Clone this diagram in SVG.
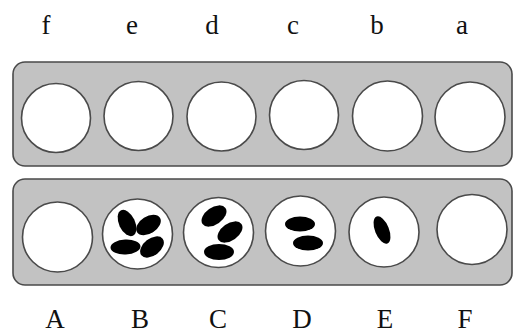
<svg xmlns="http://www.w3.org/2000/svg" width="514" height="333" viewBox="0 0 514 333">
<style>
.panel{fill:#c2c2c2;stroke:#4a4a4a;stroke-width:1.6}
.well{fill:#fff;stroke:#4a4a4a;stroke-width:1.6}
.cell{fill:#000}
</style>
<rect width="514" height="333" fill="#fff"/>
<g id="top-labels" font-family="Liberation Serif, DejaVu Serif, serif" font-size="27" fill="#111" text-anchor="middle">
<text x="46" y="34">f</text>
<text x="132" y="34">e</text>
<text x="212" y="34">d</text>
<text x="293" y="34">c</text>
<text x="377" y="34">b</text>
<text x="462" y="34">a</text>
</g>
<g id="top-plate">
<rect class="panel" x="13" y="62" width="499" height="104" rx="12"/>
<circle class="well" cx="56" cy="118" r="34.5"/>
<circle class="well" cx="138.5" cy="116" r="34.5"/>
<circle class="well" cx="221.5" cy="116.5" r="34.5"/>
<circle class="well" cx="304" cy="115" r="34.5"/>
<circle class="well" cx="387.5" cy="116" r="35"/>
<circle class="well" cx="470" cy="117" r="35"/>
</g>
<g id="bottom-plate">
<rect class="panel" x="13" y="179" width="499" height="106" rx="12"/>
<g id="well-A"><circle class="well" cx="57.5" cy="237" r="35"/></g>
<g id="well-B"><circle class="well" cx="137.5" cy="234" r="35"/>
<ellipse class="cell" cx="127" cy="223" rx="14" ry="8" transform="rotate(65 127 223)"/>
<ellipse class="cell" cx="148.5" cy="225" rx="13.5" ry="8.5" transform="rotate(-32 148.5 225)"/>
<ellipse class="cell" cx="125.5" cy="247" rx="15" ry="7.5" transform="rotate(-3 125.5 247)"/>
<ellipse class="cell" cx="152" cy="247" rx="13.5" ry="8.5" transform="rotate(-38 152 247)"/>
</g>
<g id="well-C"><circle class="well" cx="218.5" cy="232.5" r="35"/>
<ellipse class="cell" cx="214" cy="216" rx="14" ry="8.5" transform="rotate(-35 214 216)"/>
<ellipse class="cell" cx="230" cy="232" rx="14" ry="8.5" transform="rotate(-35 230 232)"/>
<ellipse class="cell" cx="219" cy="252" rx="15" ry="8"/>
</g>
<g id="well-D"><circle class="well" cx="300.5" cy="231" r="35"/>
<ellipse class="cell" cx="300" cy="224" rx="15" ry="7.5"/>
<ellipse class="cell" cx="308" cy="243" rx="15" ry="7.5"/>
</g>
<g id="well-E"><circle class="well" cx="384" cy="232" r="35"/>
<ellipse class="cell" cx="382" cy="230" rx="7" ry="14.5" transform="rotate(-22 382 230)"/>
</g>
<g id="well-F"><circle class="well" cx="472" cy="229.5" r="35"/></g>
</g>
<g id="bottom-labels" font-family="Liberation Serif, DejaVu Serif, serif" font-size="27" fill="#111" text-anchor="middle">
<text x="55" y="328">A</text>
<text x="140" y="328">B</text>
<text x="218" y="328">C</text>
<text x="302" y="328">D</text>
<text x="385" y="328">E</text>
<text x="465" y="328">F</text>
</g>
</svg>
